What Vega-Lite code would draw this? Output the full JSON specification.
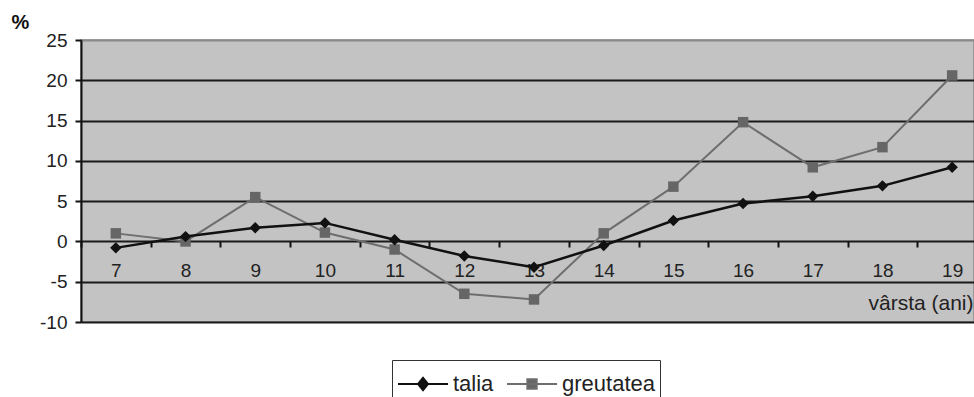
{
  "$schema": "https://vega.github.io/schema/vega-lite/v6.json",
  "autosize": {"type": "none"},
  "padding": {"left": 81, "top": 40, "right": 0, "bottom": 75},
  "width": 893,
  "height": 282,
  "background": "white",
  "config": {
    "view": {"fill": "#c3c3c3", "stroke": "#8a8a8a", "strokeWidth": 1.5},
    "font": "Liberation Sans"
  },
  "data": {
    "values": [
      {"age": 7, "series": "talia", "value": -0.8},
      {"age": 8, "series": "talia", "value": 0.6},
      {"age": 9, "series": "talia", "value": 1.7},
      {"age": 10, "series": "talia", "value": 2.3},
      {"age": 11, "series": "talia", "value": 0.2},
      {"age": 12, "series": "talia", "value": -1.8},
      {"age": 13, "series": "talia", "value": -3.2},
      {"age": 14, "series": "talia", "value": -0.5},
      {"age": 15, "series": "talia", "value": 2.6},
      {"age": 16, "series": "talia", "value": 4.7},
      {"age": 17, "series": "talia", "value": 5.6},
      {"age": 18, "series": "talia", "value": 6.9},
      {"age": 19, "series": "talia", "value": 9.2},
      {"age": 7, "series": "greutatea", "value": 1.0},
      {"age": 8, "series": "greutatea", "value": 0.0},
      {"age": 9, "series": "greutatea", "value": 5.5},
      {"age": 10, "series": "greutatea", "value": 1.1},
      {"age": 11, "series": "greutatea", "value": -1.0},
      {"age": 12, "series": "greutatea", "value": -6.5},
      {"age": 13, "series": "greutatea", "value": -7.2},
      {"age": 14, "series": "greutatea", "value": 1.0},
      {"age": 15, "series": "greutatea", "value": 6.8},
      {"age": 16, "series": "greutatea", "value": 14.8},
      {"age": 17, "series": "greutatea", "value": 9.2},
      {"age": 18, "series": "greutatea", "value": 11.7},
      {"age": 19, "series": "greutatea", "value": 20.6}
    ]
  },
  "encoding": {
    "x": {
      "field": "age",
      "type": "ordinal",
      "scale": {"type": "band", "range": [0, 906], "paddingInner": 0, "paddingOuter": 0},
      "axis": {
        "orient": "bottom",
        "offset": -81,
        "domain": false,
        "tickBand": "extent",
        "ticks": true,
        "tickColor": "#111",
        "tickWidth": 2,
        "tickSize": 6,
        "labelAngle": 0,
        "labelFontSize": 19,
        "labelColor": "#222",
        "labelPadding": 14,
        "title": "vârsta (ani)",
        "titleFontSize": 21,
        "titleFontWeight": "normal",
        "titleColor": "#222",
        "titleAlign": "right",
        "titleAnchor": null,
        "titleBaseline": "middle",
        "titleX": 892,
        "titleY": 62
      }
    },
    "y": {
      "field": "value",
      "type": "quantitative",
      "scale": {"domain": [-10, 25], "nice": false, "zero": false},
      "axis": {
        "values": [-10, -5, 0, 5, 10, 15, 20, 25],
        "labelExpr": "datum.value < 0 ? '-' + abs(datum.value) : '' + datum.value",
        "grid": true,
        "gridColor": {"condition": {"test": "datum.value == 25", "value": "#8a8a8a"}, "value": "#1a1a1a"},
        "gridWidth": 2,
        "domainColor": "#111",
        "domainWidth": 2,
        "tickColor": "#111",
        "tickWidth": 2,
        "tickSize": 6,
        "labelFontSize": 19,
        "labelColor": "#222",
        "labelPadding": 8,
        "title": "%",
        "titleAngle": 0,
        "titleFontSize": 20,
        "titleFontWeight": "bold",
        "titleColor": "#111",
        "titleAlign": "center",
        "titleBaseline": "middle",
        "titleX": -61,
        "titleY": -18
      }
    }
  },
  "layer": [
    {
      "transform": [{"filter": "datum.series == 'greutatea'"}],
      "mark": {
        "type": "line",
        "color": "#6e6e6e",
        "strokeWidth": 2,
        "point": {"shape": "square", "size": 110, "filled": true, "color": "#666666", "opacity": 1}
      }
    },
    {
      "transform": [{"filter": "datum.series == 'talia'"}],
      "mark": {
        "type": "line",
        "color": "#111111",
        "strokeWidth": 2.5,
        "point": {"shape": "diamond", "size": 130, "filled": true, "color": "#111111", "opacity": 1}
      }
    },
    {
      "mark": {"type": "point", "filled": true, "size": 0, "opacity": 1},
      "encoding": {
        "fill": {
          "field": "series",
          "type": "nominal",
          "scale": {"domain": ["talia", "greutatea"], "range": ["#111111", "#666666"]},
          "legend": {
            "title": null,
            "orient": "none",
            "direction": "horizontal",
            "legendX": 311,
            "legendY": 320,
            "fillColor": "white",
            "strokeColor": "#333333",
            "padding": 5,
            "symbolSize": 1296,
            "symbolOpacity": 1,
            "symbolStrokeWidth": 2,
            "labelFontSize": 22,
            "labelColor": "#222",
            "labelOffset": 18,
            "columnPadding": 9,
            "labelLimit": 300
          }
        },
        "stroke": {
          "field": "series",
          "type": "nominal",
          "scale": {"domain": ["talia", "greutatea"], "range": ["#111111", "#6e6e6e"]}
        },
        "shape": {
          "field": "series",
          "type": "nominal",
          "scale": {
            "domain": ["talia", "greutatea"],
            "range": [
              "M-1,0H1.78M0.39,-0.34L0.67,0L0.39,0.34L0.11,0Z",
              "M-1,0H1.78M0.13,-0.26H0.65V0.26H0.13Z"
            ]
          }
        }
      }
    }
  ]
}
